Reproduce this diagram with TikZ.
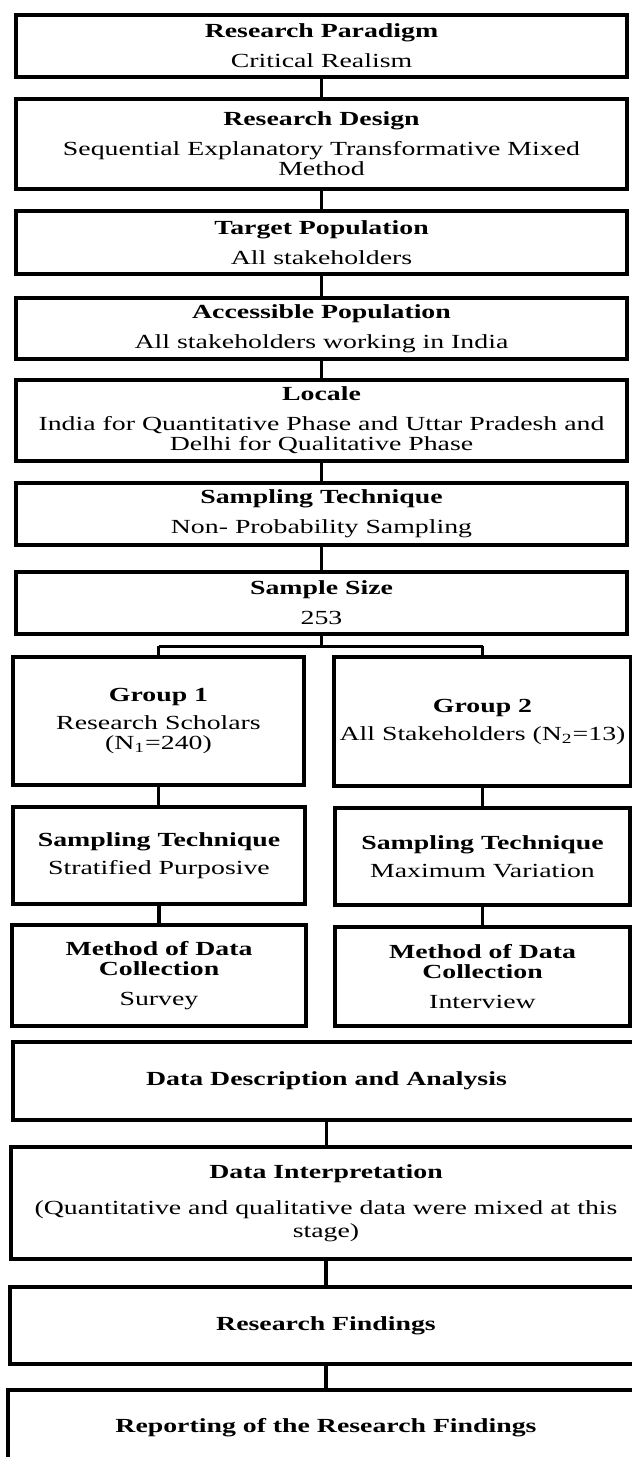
\documentclass[tikz,border=0pt]{standalone}
\usepackage{fontspec}
\setmainfont{Liberation Serif}[FakeStretch=1.39]
\begin{document}
\begin{tikzpicture}[x=0.5pt,y=-0.5pt,
  box/.style={draw, line width=1.65pt, inner sep=0pt, align=center, font=\fontsize{10}{10}\selectfont},
  conn/.style={line width=1.65pt},
  brline/.style={line width=1.5pt}]
\clip (0,0) rectangle (632,1457);
\fill[white] (0,0) rectangle (632,1457);
\node[box, minimum width=305.5pt, minimum height=31pt] (rp) at (321.5,46) {\textbf{Research Paradigm}\\[5pt]Critical Realism};
\node[box, minimum width=305.5pt, minimum height=45pt] (rd) at (321.5,144) {\textbf{Research Design}\\[5pt]Sequential Explanatory Transformative Mixed\\Method};
\node[box, minimum width=305.5pt, minimum height=31.5pt] (tp) at (321.5,242.5) {\textbf{Target Population}\\[5pt]All stakeholders};
\node[box, minimum width=305.5pt, minimum height=30.5pt] (ap) at (321.5,328.5) {\textbf{Accessible Population}\\[5pt]All stakeholders working in India};
\node[box, minimum width=305.5pt, minimum height=40.5pt] (lo) at (321.5,420.5) {\textbf{Locale}\\[5pt]India for Quantitative Phase and Uttar Pradesh and\\Delhi for Qualitative Phase};
\node[box, minimum width=305.5pt, minimum height=31pt] (st) at (321.5,514) {\textbf{Sampling Technique}\\[5pt]Non- Probability Sampling};
\node[box, minimum width=305.5pt, minimum height=31pt] (ss) at (321.5,603) {\textbf{Sample Size}\\[5pt]253};
\node[box, minimum width=145.5pt, minimum height=64pt] (g1) at (158.5,721) {\textbf{Group 1}\\[4pt]Research Scholars\\(N\textsubscript{1}=240)};
\node[box, minimum width=148.5pt, minimum height=64.5pt] (g2) at (482.5,721.5) {\textbf{Group 2}\\[4pt]All Stakeholders (N\textsubscript{2}=13)};
\node[box, minimum width=146pt, minimum height=48.5pt] (s1) at (159,855.5) {\textbf{Sampling Technique}\\[4pt]Stratified Purposive};
\node[box, minimum width=147.5pt, minimum height=48.5pt] (s2) at (482.5,856.5) {\textbf{Sampling Technique}\\[4pt]Maximum Variation};
\node[box, minimum width=147pt, minimum height=50.5pt] (m1) at (159,975.5) {\textbf{Method of Data}\\\textbf{Collection}\\[5pt]Survey};
\node[box, minimum width=147.5pt, minimum height=49.5pt] (m2) at (482.5,976.5) {\textbf{Method of Data}\\\textbf{Collection}\\[5pt]Interview};
\node[box, minimum width=313.5pt, minimum height=39pt] (dd) at (326.5,1081) {\textbf{Data Description and Analysis}};
\node[box, minimum width=315pt, minimum height=56pt] (di) at (326,1203) {\textbf{Data Interpretation}\\[8pt](Quantitative and qualitative data were mixed at this\\[1.5pt]stage)};
\node[box, minimum width=316pt, minimum height=38.5pt] (rf) at (326,1325.5) {\textbf{Research Findings}};
\node[box, minimum width=318pt, minimum height=38pt] (rep) at (326,1428) {\textbf{Reporting of the Research Findings}};
\draw[conn] (rp.south) -- (rd.north);
\draw[conn] (rd.south) -- (tp.north);
\draw[conn] (tp.south) -- (ap.north);
\draw[conn] (ap.south) -- (lo.north);
\draw[conn] (lo.south) -- (st.north);
\draw[conn] (st.south) -- (ss.north);
\coordinate (br) at (321.5,646);
\draw[conn] (ss.south) -- (br);
\draw[brline] (g1.north |- br) -- (g2.north |- br);
\draw[conn] (g1.north |- br) -- (g1.north);
\draw[conn] (g2.north |- br) -- (g2.north);
\draw[conn] (g1.south) -- (g1.south |- s1.north);
\draw[conn] (s1.south) -- (s1.south |- m1.north);
\draw[conn] (g2.south) -- (g2.south |- s2.north);
\draw[conn] (s2.south) -- (s2.south |- m2.north);
\draw[conn] (dd.south) -- (dd.south |- di.north);
\draw[conn] (di.south) -- (di.south |- rf.north);
\draw[conn] (rf.south) -- (rf.south |- rep.north);
\end{tikzpicture}
\end{document}
